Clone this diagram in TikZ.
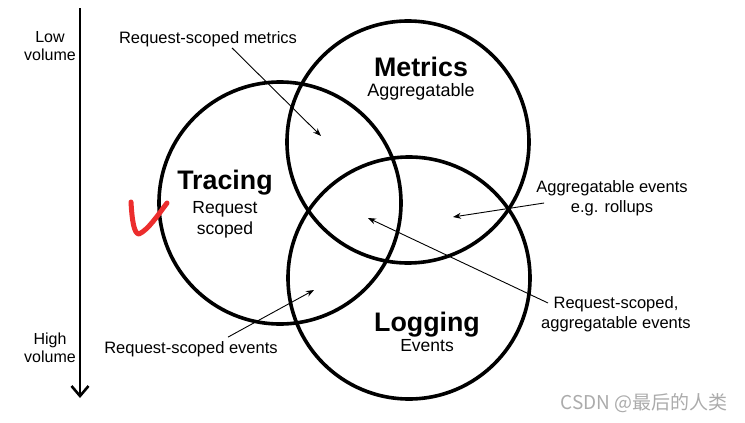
\documentclass[tikz,border=0pt]{standalone}
\usepackage{fontspec}
\setmainfont{Liberation Sans}
\newfontfamily\cjkfont{Noto Sans CJK SC}
\usetikzlibrary{arrows.meta}
\definecolor{pen}{RGB}{236,45,45}

\begin{document}
\begin{tikzpicture}[x=1pt,y=-1pt,
    ring/.style={draw,circle,line width=3.6pt,minimum size=242pt,inner sep=0pt},
    txt/.style={align=center,inner sep=1pt,font=\fontsize{16.5}{20}\selectfont},
    sub/.style={align=center,inner sep=1pt,font=\fontsize{17.5}{21}\selectfont},
    head/.style={inner sep=1pt,font=\fontsize{26.8}{30}\selectfont\bfseries},
    pointer/.style={-{Stealth[length=8pt,width=6pt]},line width=0.9pt}]
  \useasboundingbox (0,0) rectangle (745,423);
  % volume axis
  \coordinate (low) at (80,8);
  \coordinate (high) at (80,398);
  \draw[line width=2.6pt,-{Straight Barb[length=10pt,width=17pt]}] (low) -- (high);
  \node[txt,font=\fontsize{16}{18.5}\selectfont] (lowvol) at (50,46) {Low\\volume};
  \node[txt,font=\fontsize{16}{18.5}\selectfont] (highvol) at (50,348) {High\\volume};
  % the three circles
  \node[ring] (tracing) at (280,203) {};
  \node[ring] (metrics) at (408,142) {};
  \node[ring] (logging) at (409,278) {};
  \node[head] (tracingt) at (225,183) {Tracing};
  \node[sub] (tracings) at (225,220) {Request\\scoped};
  \node[head] (metricst) at (421,67) {Metrics};
  \node[sub,font=\fontsize{18}{21}\selectfont] (metricss) at (421,92) {Aggregatable};
  \node[head] (loggingt) at (427,325) {Logging};
  \node[sub] (loggings) at (427,346) {Events};
  % overlap labels
  \node[txt] (rsm) at (208,39) {Request-scoped metrics};
  \node[txt] (rse) at (191,349) {Request-scoped events};
  \node[txt] (agg) at (612,198) {Aggregatable events\\e.g. rollups};
  \node[txt] (rsa) at (616,314) {Request-scoped,\\aggregatable events};
  \coordinate (rsmend) at (321,136);
  \coordinate (rseend) at (314,290);
  \coordinate (aggend) at (453,217);
  \coordinate (rsaend) at (368,218);
  \draw[pointer] ([xshift=24pt]rsm.south) -- (rsmend);
  \draw[pointer] ([shift={(37pt,3pt)}]rse.north) -- (rseend);
  \draw[pointer] ([shift={(9pt,-5pt)}]agg.west) -- (aggend);
  \draw[pointer] ([shift={(8pt,11pt)}]rsa.west) -- (rsaend);
  % hand-drawn tick
  \draw[pen,line width=5pt,line cap=round,line join=round]
    (131,202) .. controls (132,220) and (134,234) .. (139,234) .. controls (148,230) and (158,215) .. (167,203);
  \node[font=\cjkfont\fontsize{19}{22}\selectfont,text=black!33] (mark) at (644,403) {CSDN @最后的人类};
\end{tikzpicture}
\end{document}
